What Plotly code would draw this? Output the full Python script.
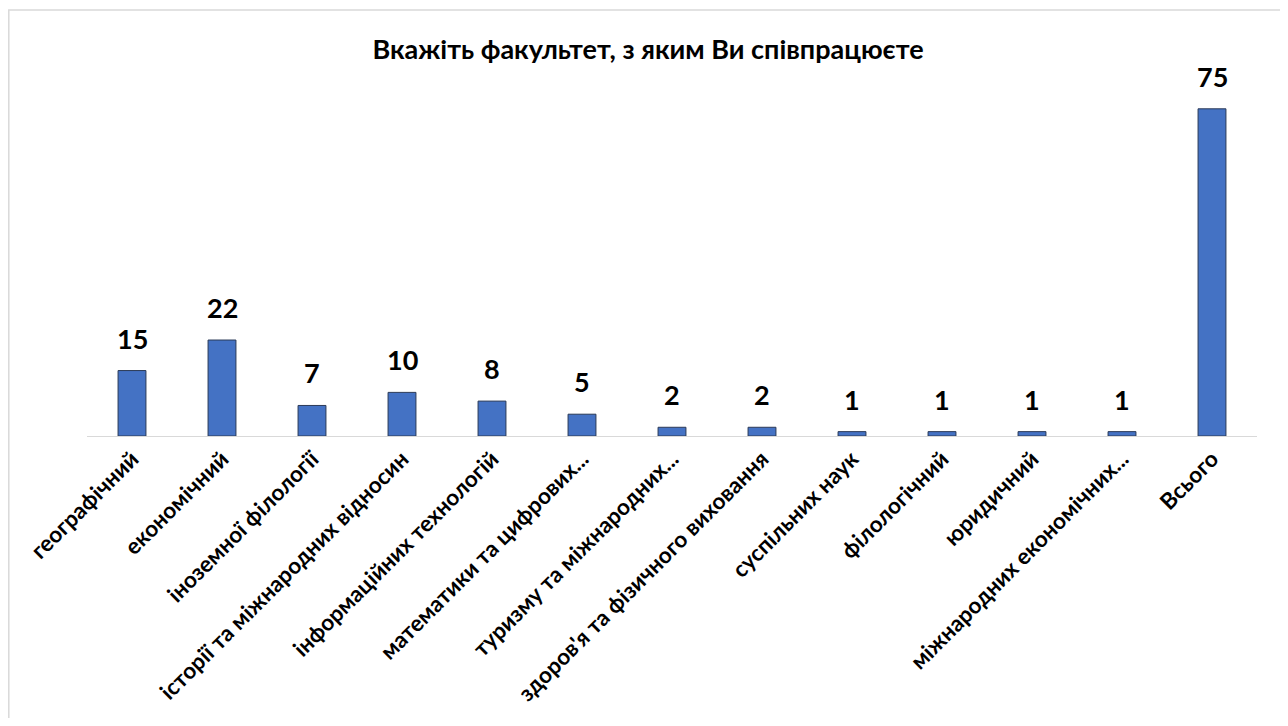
import plotly.graph_objects as go

categories = [
    "географічний",
    "економічний",
    "іноземної філології",
    "історії та міжнародних відносин",
    "інформаційних технологій",
    "математики та цифрових...",
    "туризму та міжнародних...",
    "здоров'я та фізичного виховання",
    "суспільних наук",
    "філологічний",
    "юридичний",
    "міжнародних економічних...",
    "Всього",
]
values = [15, 22, 7, 10, 8, 5, 2, 2, 1, 1, 1, 1, 75]
title_text = "Вкажіть факультет, з яким Ви співпрацюєте"

FONT = "Lato"
W, H = 1280, 710  # page body has an 8px margin
L, R, T = 79, 31, 79
B = H - 428

fig = go.Figure(
    go.Bar(
        x=categories,
        y=values,
        width=0.31,
        marker=dict(color="#4472C4", line=dict(color="#2B3A57", width=1)),
        hoverinfo="x+y",
    )
)

for c, v in zip(categories, values):
    fig.add_annotation(
        x=c, y=v, text=f"<b>{v}</b>", showarrow=False,
        yanchor="bottom", yshift=14,
        font=dict(family=FONT, size=27, color="#000000"),
    )

fig.update_layout(
    width=W,
    height=H,
    margin=dict(l=L, r=R, t=T, b=B),
    paper_bgcolor="white",
    plot_bgcolor="white",
    showlegend=False,
    title=dict(
        text=title_text,
        x=0.5,
        xanchor="center",
        y=1 - 42 / H,
        yanchor="middle",
        font=dict(family=FONT, size=27, color="#000000", weight="bold"),
    ),
)

fig.update_xaxes(
    tickangle=-45,
    tickfont=dict(family=FONT, size=22.5, color="#000000", weight="bold"),
    showline=True,
    linecolor="#D9D9D9",
    linewidth=1,
    ticks="",
    showgrid=False,
    automargin=False,
)
fig.update_yaxes(
    range=[0, 80],
    visible=False,
    showgrid=False,
    zeroline=False,
)

pw = W - L - R
ph = H - T - B
fig.add_shape(
    type="rect",
    xref="paper",
    yref="paper",
    x0=(0.8 - L) / pw,
    x1=(1277.5 - L) / pw,
    y0=-(B + 30) / ph,
    y1=(ph + T - 2) / ph,
    line=dict(color="#D9D9D9", width=1.5),
    fillcolor="rgba(0,0,0,0)",
    layer="below",
)

fig.write_html("out.html")
